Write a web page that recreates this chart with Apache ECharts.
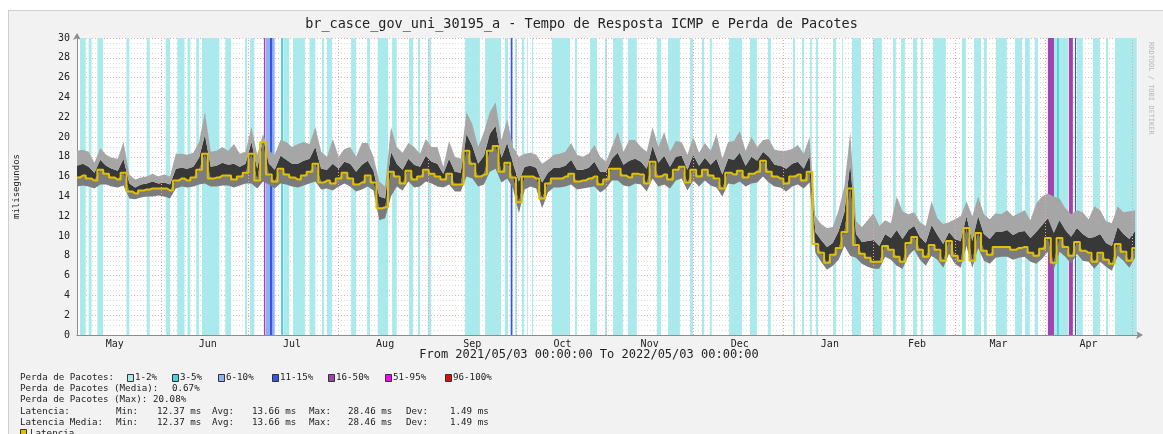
<!DOCTYPE html>
<html>
<head>
<meta charset="utf-8">
<script src="https://cdn.jsdelivr.net/npm/echarts@6/dist/echarts.min.js"></script>
<style>
html,body{margin:0;padding:0;background:#fff;}
#frame{position:absolute;left:8px;top:10px;width:1170px;height:440px;background:#f2f2f2;border:1px solid #cfcfcf;box-sizing:border-box;}
#chart{position:absolute;left:0;top:0;width:1163px;height:434px;}
</style>
</head>
<body>
<div id="frame"></div>
<div id="chart"></div>
<script>
// one sample every 2 days, starting 2021/05/03
const stepDays = 2
const median = [
  15.9,16.1,15.8,15.6,16.7,16.3,15.9,15.7,16.4,14.5,
  14.3,14.6,14.7,14.8,14.8,14.8,14.6,15.6,15.8,15.6,
  15.9,16.7,18.3,15.8,15.9,16.1,16.1,15.7,16.0,16.4,
  18.3,15.6,19.5,16.2,15.5,16.8,16.2,15.9,15.7,16.1,
  16.5,17.3,15.4,15.6,15.3,15.8,16.4,15.8,15.2,15.4,
  16.1,15.4,12.8,12.9,16.5,16.0,15.3,16.6,15.7,16.0,
  16.7,16.3,16.0,15.7,16.3,15.2,15.2,18.6,17.3,16.0,
  16.2,18.6,19.1,16.5,17.4,15.9,13.4,16.0,16.0,15.8,
  13.8,15.3,15.8,15.8,16.0,16.3,15.5,15.6,15.8,16.0,
  15.2,15.7,16.8,16.8,16.1,15.9,16.3,16.2,15.3,17.5,
  16.0,16.2,15.7,16.7,17.0,15.4,16.7,16.0,16.7,16.1,
  15.8,14.8,16.4,16.2,16.6,15.9,16.3,16.5,17.6,16.5,
  16.0,15.8,15.3,16.0,16.2,15.6,16.5,9.2,8.3,7.3,
  8.1,8.8,10.4,14.8,9.1,8.2,7.8,7.4,7.4,9.0,
  8.6,7.9,7.4,9.3,9.9,8.6,7.9,9.1,8.6,7.5,
  9.5,8.0,7.5,10.8,7.5,10.3,8.5,8.1,8.9,8.9,
  8.9,8.6,8.8,8.9,8.3,8.0,8.7,9.8,7.3,9.8,
  8.9,8.0,9.4,8.5,8.3,7.4,8.3,7.6,7.2,9.2,
  8.4,7.5,8.8
]
const smokeHi = [
  18.6,18.7,18.5,17.4,18.9,18.2,17.9,17.8,19.5,16.2,
  15.7,15.9,16.0,16.3,16.0,16.2,16.0,18.3,18.3,18.2,
  18.4,19.5,22.5,18.5,18.6,19.0,18.6,19.3,18.3,18.5,
  21.0,18.2,20.3,18.6,18.2,19.7,19.5,19.0,19.3,19.5,
  19.3,21.0,18.5,18.0,19.8,18.0,18.8,19.0,18.0,19.4,
  19.4,18.0,15.5,15.0,21.0,19.0,18.4,19.4,19.0,18.3,
  19.8,19.0,19.0,17.0,19.6,18.0,17.8,22.5,21.3,19.0,
  20.5,22.5,23.5,19.7,21.8,19.0,18.0,18.3,18.4,18.2,
  17.3,17.7,18.2,18.3,18.5,19.4,18.2,18.0,18.3,19.2,
  18.0,17.5,19.0,20.5,18.5,19.7,19.7,19.0,18.5,21.0,
  19.0,20.5,18.5,19.6,19.5,18.2,20.0,18.4,19.4,18.6,
  20.3,17.8,19.5,19.6,20.6,18.6,20.0,19.0,19.7,19.8,
  18.7,18.6,18.6,18.8,19.2,18.3,20.0,12.0,11.2,10.8,
  10.9,12.6,15.0,20.5,11.5,10.9,11.6,12.3,11.0,11.6,
  11.3,14.0,12.5,12.2,12.4,11.4,11.0,13.5,11.8,11.2,
  11.4,11.7,12.0,13.5,12.0,14.0,12.2,11.7,12.3,12.2,
  12.6,12.0,12.3,12.6,11.6,13.3,14.0,14.3,14.0,13.8,
  12.8,12.2,12.6,12.4,11.7,13.0,12.6,11.5,11.3,13.0,
  12.4,12.5,12.6
]
const smokeCore = [
  17.1,17.3,17.0,16.4,17.7,17.1,16.8,16.6,17.8,15.3,
  14.9,15.2,15.3,15.5,15.3,15.4,15.2,16.8,16.9,16.8,
  17.0,17.9,20.2,17.0,17.1,17.4,17.2,17.3,17.0,17.3,
  19.5,16.8,19.8,17.3,16.7,18.1,17.7,17.3,17.3,17.6,
  17.8,19.0,16.8,16.7,17.3,16.8,17.5,17.3,16.5,17.2,
  17.6,16.6,14.0,13.8,18.5,17.3,16.7,17.8,17.2,17.0,
  18.1,17.5,17.3,16.3,17.8,16.5,16.4,20.3,19.1,17.3,
  18.1,20.3,21.1,17.9,19.4,17.3,15.5,17.0,17.1,16.9,
  15.4,16.4,16.9,16.9,17.1,17.7,16.7,16.7,16.9,17.5,
  16.5,16.5,17.8,18.4,17.2,17.6,17.8,17.5,16.8,19.1,
  17.4,18.1,17.0,18.0,18.1,16.7,18.2,17.1,17.9,17.2,
  17.8,16.2,17.8,17.7,18.4,17.1,18.0,17.6,18.5,18.0,
  17.2,17.1,16.8,17.3,17.5,16.8,18.1,10.4,9.6,8.9,
  9.3,10.5,12.4,17.3,10.2,9.4,9.5,9.6,9.0,10.2,
  9.8,10.6,9.7,10.6,11.0,9.9,9.3,11.1,10.1,9.2,
  10.4,9.7,9.5,12.0,9.5,12.0,10.2,9.7,10.4,10.4,
  10.6,10.1,10.4,10.5,9.8,10.4,11.1,11.8,10.3,11.6,
  10.6,9.9,10.8,10.2,9.8,9.9,10.2,9.3,9.0,10.9,
  10.2,9.7,10.5
]
const smokeLo = [
  15.0,15.1,15.0,14.8,15.2,15.2,15.0,14.9,15.1,13.8,
  13.7,13.9,14.0,14.0,14.1,14.0,13.8,14.8,15.0,14.9,
  15.0,15.2,15.3,15.0,15.0,15.1,15.1,14.9,15.1,15.3,
  15.3,14.8,15.5,15.2,14.8,15.3,15.2,15.0,14.9,15.1,
  15.3,15.5,14.7,14.8,14.6,15.0,15.3,15.0,14.5,14.7,
  15.0,14.6,11.6,11.8,14.0,15.0,14.6,15.5,14.9,15.0,
  15.5,15.3,15.0,14.9,15.2,14.5,14.5,16.0,15.8,15.0,
  15.2,16.5,16.8,15.4,15.8,14.8,12.3,14.7,15.0,14.8,
  12.8,14.4,14.9,14.9,15.0,15.2,14.7,14.8,14.9,15.0,
  14.4,14.8,15.6,15.6,15.1,15.0,15.3,15.2,14.5,15.8,
  15.0,15.2,14.8,15.6,15.8,14.6,15.6,15.0,15.6,15.1,
  14.9,14.0,15.3,15.2,15.5,15.0,15.3,15.4,16.0,15.4,
  15.0,14.9,14.5,15.0,15.2,14.8,15.4,8.3,7.4,6.6,
  7.0,7.6,9.0,8.0,7.8,7.2,6.9,6.7,6.7,7.9,
  7.6,7.0,6.7,8.0,8.6,7.6,7.0,8.0,7.6,6.8,
  8.2,7.2,6.8,9.0,6.8,8.8,7.5,7.2,7.8,7.9,
  7.9,7.6,7.8,7.9,7.4,7.2,7.7,8.4,6.6,8.4,
  7.9,7.2,8.2,7.5,7.4,6.7,7.4,6.9,6.5,8.0,
  7.5,6.8,7.8
]

// packet loss periods, in days since 2021/05/03; level is index into lossLevels
const lossStart = [1,4,7,17,24,30.5,34.5,38,41,43,51,57.8,59.5,64.3,65,66.4,70.2,71,74.3,80,84.3,86,94.3,99.8,103.5,108.4,114.2,117.3,120.7,133.5,140.4,147.2,149.2,150.7,153.1,154.8,156.5,163.4,171.3,176.5,181.6,184.4,189.5,199.5,203.3,210.9,215,217.7,224.3,231.5,237.7,246.3,249.4,252.2,254.2,260.1,263.2,266.6,273.8,280.7,283.5,287.6,290.3,294.5,304.4,308.6,312,316.1,322.7,326.1,329.5,334,336.1,337.1,337.8,341.2,343.3,344,349.5,354,357.1]
const lossEnd = [3,5,9,18,25,32,37,39,42,49,53,58.5,61,64.8,68,67.1,70.9,73,78.4,82,85,87.7,96,100.8,107,110,115.6,118,121.8,138.6,145.9,148.3,149.8,151.4,153.8,155.1,156.9,169.6,172,178.9,182.3,187.8,192.6,200.9,207.4,211.9,215.7,218.4,228.8,233.9,238.7,247,250.1,252.8,254.9,261.1,263.5,269.7,276.9,281.7,284.8,289,291,298.9,305.8,311,313,319.9,325.1,327.8,330.6,336.1,337.1,337.8,340.9,342.6,343.7,346,351.9,354.7,364.6]
const lossLevel = [0,0,0,0,0,0,0,0,0,0,0,0,0,4,2,3,1,0,0,0,0,0,0,0,0,0,0,0,0,0,0,0,3,0,0,0,0,0,0,0,0,0,0,0,0,0,0,0,0,0,0,0,0,0,0,0,0,0,0,0,0,0,0,0,0,0,0,0,0,0,0,4,0,1,0,4,3,0,0,0,0]
const lossLevels = ['1-2%','3-5%','6-10%','11-15%','16-50%','51-95%','96-100%']

const monthNames = ['May','Jun','Jul','Aug','Sep','Oct','Nov','Dec','Jan','Feb','Mar','Apr']
const monthLabelDays = [13,45,74,106,136,167,197,228,259,289,317,348]
const monthStartDays = [29,59,90,121,151,182,212,243,274,302,333,363]

const statNames = ['Min:','Avg:','Max:','Dev:']
const latencia = [12.37,13.66,28.46,1.49]
const latenciaMedia = [12.37,13.66,28.46,1.49]
const perdaMedia = 0.67
const perdaMax = 20.08

const lossColors = ['#aaeaec','#4fd2d4','#8fb0f5','#3555e2','#a045b0','#ff00ff','#e01010']
const mono = 'DejaVu Sans Mono'

const chart = echarts.init(document.getElementById('chart'))
const t0 = Date.UTC(2021,4,3)
const DAY = 86400000
const tt = d => t0 + d*DAY
const times = median.map((v,i)=>tt(i*stepDays))
const pts = arr => arr.map((v,i)=>[times[i], v])
const diff = (a,b) => a.map((v,i)=>[times[i], +(v-b[i]).toFixed(2)])

const lossAreas = lossStart.map((s,i)=>[
  {xAxis:tt(s), itemStyle:{color:lossColors[lossLevel[i]]}},
  {xAxis:tt(lossEnd[i])}
])

// text block under the chart
const graphics = []
function txt(x,y,text,extra){
  graphics.push({type:'text', x:x, y:y, silent:true,
    style:Object.assign({text:text, fill:'#222', font:'9.2px "'+mono+'"', verticalAlign:'middle', textVerticalAlign:'middle'}, extra||{})})
}
txt(589,355,'From 2021/05/03 00:00:00 To 2022/05/03 00:00:00',{font:'12px "'+mono+'"', align:'center', textAlign:'center'})
txt(20,378,'Perda de Pacotes:')
const boxX = [127,172,218,272,328,385,445]
lossLevels.forEach((l,i)=>{
  graphics.push({type:'rect', silent:true, shape:{x:boxX[i]+0.5, y:374.5, width:6, height:7},
    style:{fill:lossColors[i], stroke:'#333', lineWidth:1}})
  txt(boxX[i]+8,378,l)
})
txt(20,389,'Perda de Pacotes (Media):')
txt(172,389,perdaMedia.toFixed(2)+'%')
txt(20,400,'Perda de Pacotes (Max):')
txt(153,400,perdaMax.toFixed(2)+'%')
const nameX = [116,212,309,406]
const valX = [157,252,348,450]
;[['Latencia:',latencia,412],['Latencia Media:',latenciaMedia,423]].forEach(r=>{
  txt(20,r[2],r[0])
  statNames.forEach((n,i)=>{
    txt(nameX[i],r[2],n)
    txt(valX[i],r[2],r[1][i].toFixed(2)+' ms')
  })
})
graphics.push({type:'rect', silent:true, shape:{x:20.5, y:429.5, width:6, height:7}, style:{fill:'#e0c000', stroke:'#333', lineWidth:1}})
txt(30,434,'Latencia')
txt(1151,42,'RRDTOOL / TOBI OETIKER',{font:'7px "'+mono+'"', fill:'#b8b8b8', verticalAlign:'middle'})
graphics[graphics.length-1].rotation = -Math.PI/2

// smoke drawn as one stack: lo (hidden) + lo..median + median..core + core..hi
const smokeLayer = (name, data, color) => ({
  name:name, type:'line', stack:'smoke', data:data, symbol:'none', silent:true,
  lineStyle:{width:0}, areaStyle:color ? {color:color, opacity:1} : undefined
})
const baseSeries = smokeLayer('lo', pts(smokeLo), null)
baseSeries.markArea = {silent:true, data:lossAreas}
baseSeries.markLine = {silent:true, symbol:'none', label:{show:false},
  lineStyle:{color:'#f3a0a0', type:[1,2], width:1},
  data:monthStartDays.map(d=>({xAxis:tt(d)}))}

const option = {
  animation:false,
  backgroundColor:'transparent',
  title:{
    text:'br_casce_gov_uni_30195_a - Tempo de Resposta ICMP e Perda de Pacotes',
    left:'center', top:12,
    textStyle:{fontFamily:mono, fontSize:13.5, fontWeight:'normal', color:'#222'}
  },
  grid:{left:77, right:25, top:38, bottom:99, show:true, backgroundColor:'#fff', borderWidth:0},
  xAxis:[
    {
      type:'time', min:tt(0), max:tt(365),
      axisLine:{lineStyle:{color:'#8c8c8c'}, symbol:['none','arrow'], symbolSize:[6,7], symbolOffset:[0,5]},
      axisTick:{show:false},
      splitLine:{show:false},
      axisLabel:{show:false}
    },
    {
      // month names, placed mid-month; counted in days since the start
      type:'value', min:0, max:365, position:'bottom',
      axisLine:{show:false}, axisTick:{show:false}, splitLine:{show:false},
      axisLabel:{
        customValues:monthLabelDays,
        formatter:v=>monthNames[monthLabelDays.indexOf(v)],
        color:'#222', fontFamily:mono, fontSize:10, margin:4
      }
    }
  ],
  yAxis:{
    type:'value', min:0, max:30, interval:2,
    name:'milisegundos', nameLocation:'middle', nameGap:56, nameRotate:90,
    nameTextStyle:{fontFamily:mono, fontSize:9, color:'#222'},
    axisLine:{show:true, lineStyle:{color:'#8c8c8c'}, symbol:['none','arrow'], symbolSize:[6,7], symbolOffset:[0,5]},
    axisTick:{show:false},
    axisLabel:{color:'#222', fontFamily:mono, fontSize:10, margin:7},
    splitLine:{lineStyle:{color:'#f3a8a8', type:[1,2]}},
    minorTick:{show:false, splitNumber:4},
    minorSplitLine:{show:true, lineStyle:{color:'#dddddd', type:[1,2]}}
  },
  graphic:graphics,
  series:[
    baseSeries,
    smokeLayer('lower', diff(median,smokeLo), '#7c7c7c'),
    smokeLayer('core', diff(smokeCore,median), '#383838'),
    smokeLayer('upper', diff(smokeHi,smokeCore), '#a6a6a6'),
    {
      name:'Latencia', type:'line', data:pts(median), symbol:'none', step:'middle',
      lineStyle:{color:'#e0c000', width:2}, silent:true, z:5
    }
  ]
}
chart.setOption(option)
</script>
</body>
</html>
